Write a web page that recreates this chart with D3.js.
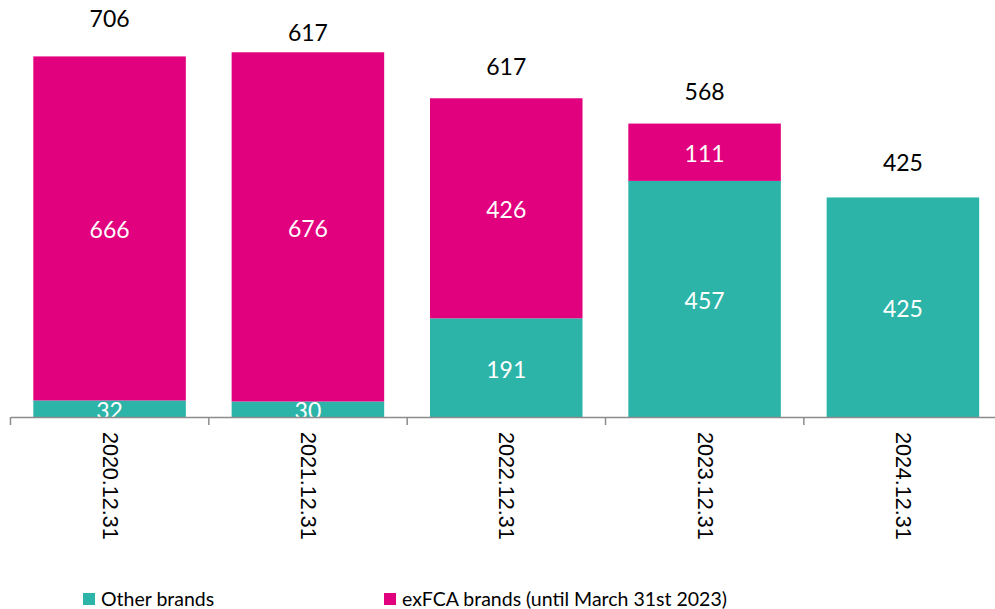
<!DOCTYPE html>
<html>
<head>
<meta charset="utf-8">
<script src="https://cdn.jsdelivr.net/npm/d3@7"></script>
<style>
  html, body { margin: 0; padding: 0; background: #fff; }
  svg { display: block; font-family: Lato, "Open Sans", sans-serif; }
</style>
</head>
<body>
<svg id="chart" width="995" height="609"></svg>
<script>
// ---- data ----
const categories = ["2020.12.31", "2021.12.31", "2022.12.31", "2023.12.31", "2024.12.31"];
const otherBrands = [32, 30, 191, 457, 425];
const exFCABrands = [666, 676, 426, 111, 0];
const totalLabels = ["706", "617", "617", "568", "425"];
const seriesNames = ["Other brands", "exFCA brands (until March 31st 2023)"];
const seriesColors = ["#2cb4a9", "#e1007e"];

// ---- layout ----
const svg = d3.select("#chart");
const baseY = 417;
const x = d3.scaleBand().domain(categories).range([10.5, 10.5 + 5 * 198.3]).paddingInner(0.231).paddingOuter(0.115);
const y = d3.scaleLinear().domain([0, 800]).range([baseY, baseY - 800 * 0.5166]);

const rows = categories.map((c, i) => ({ cat: c, other: otherBrands[i], exfca: exFCABrands[i] }));
const stack = d3.stack().keys(["other", "exfca"]);
const layers = stack(rows);

const g = svg.append("g");
layers.forEach((layer, li) => {
  g.selectAll(null).data(layer.filter(d => d[1] - d[0] > 0)).enter().append("rect")
    .attr("x", d => x(d.data.cat))
    .attr("width", x.bandwidth())
    .attr("y", d => y(d[1]))
    .attr("height", d => y(d[0]) - y(d[1]))
    .attr("fill", seriesColors[li]);
  g.selectAll(null).data(layer.filter(d => d[1] - d[0] > 0)).enter().append("text")
    .attr("x", d => x(d.data.cat) + x.bandwidth() / 2)
    .attr("y", d => (y(d[0]) + y(d[1])) / 2 + 1)
    .attr("text-anchor", "middle")
    .attr("dominant-baseline", "central")
    .attr("fill", "#fff")
    .attr("font-size", 23)
    .text(d => d[1] - d[0]);
});

// total labels
const lift = [38, 20, 32, 33, 35];
const topLayer = layers[layers.length - 1];
svg.selectAll(".tot").data(topLayer).enter().append("text")
  .attr("class", "tot")
  .attr("x", d => x(d.data.cat) + x.bandwidth() / 2)
  .attr("y", (d, i) => y(d[1]) - lift[i])
  .attr("text-anchor", "middle")
  .attr("dominant-baseline", "central")
  .attr("fill", "#000")
  .attr("font-size", 23)
  .text((d, i) => totalLabels[i]);

// x axis
const axis = d3.axisBottom(x).tickSize(0).tickFormat("");
const ax = svg.append("g").attr("transform", `translate(0,${baseY})`).call(axis);
ax.select(".domain").attr("stroke", "#8c8c8c").attr("stroke-width", 1.5);
// category boundary ticks
const bounds = d3.range(categories.length + 1).map(i => x.range()[0] + i * x.step());
ax.selectAll(".bt").data(bounds).enter().append("line")
  .attr("x1", d => d).attr("x2", d => d).attr("y1", 0).attr("y2", 8)
  .attr("stroke", "#8c8c8c").attr("stroke-width", 1.5);
ax.selectAll(".cl").data(categories).enter().append("text")
  .attr("transform", d => `translate(${x(d) + x.bandwidth() / 2},15) rotate(90)`)
  .attr("text-anchor", "start")
  .attr("dominant-baseline", "central")
  .attr("fill", "#000")
  .attr("font-size", 21.5)
  .text(d => d);

// legend
const legX = [83, 384];
const leg = svg.selectAll(".leg").data(seriesNames).enter().append("g")
  .attr("transform", (d, i) => `translate(${legX[i]},593)`);
leg.append("rect").attr("width", 12).attr("height", 12).attr("fill", (d, i) => seriesColors[i]);
leg.append("text").attr("x", 18).attr("y", 12.5).attr("font-size", 19.5).attr("fill", "#000").text(d => d);
</script>
</body>
</html>
